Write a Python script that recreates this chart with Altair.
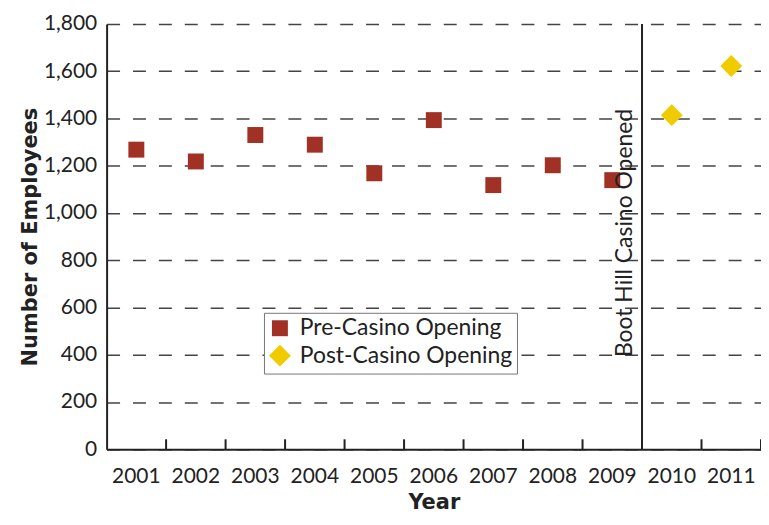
import altair as alt
import pandas as pd

years = ["2001", "2002", "2003", "2004", "2005", "2006", "2007", "2008", "2009", "2010", "2011"]
pre_years = ["2001", "2002", "2003", "2004", "2005", "2006", "2007", "2008", "2009"]
pre_values = [1268, 1218, 1330, 1289, 1168, 1393, 1118, 1202, 1139]
post_years = ["2010", "2011"]
post_values = [1414, 1622]
series_names = ["Pre-Casino Opening", "Post-Casino Opening"]
event_year = "2010"
event_label = "Boot Hill Casino Opened"
event_label_value = 390

FONT = "Lato"
TITLE_FONT = "DejaVu Sans"
W, H = 657, 427

df = pd.DataFrame(
    {"year": pre_years + post_years,
     "employees": pre_values + post_values,
     "series": [series_names[0]] * len(pre_values) + [series_names[1]] * len(post_values)}
)

xscale = alt.Scale(domain=years, paddingInner=0, paddingOuter=0)
yscale = alt.Scale(domain=[0, 1800], nice=False)

points = alt.Chart(df).mark_point(filled=True, opacity=1).encode(
    x=alt.X("year:O", scale=xscale, sort=years,
            axis=alt.Axis(title="Year", labelAngle=0, ticks=False, labelPadding=16,
                          titlePadding=5, grid=False)),
    y=alt.Y("employees:Q", scale=yscale,
            axis=alt.Axis(title="Number of Employees", values=list(range(0, 1801, 200)),
                          format=",d", ticks=False, labelPadding=10, titlePadding=3,
                          grid=True, gridDash=[13, 13], gridDashOffset=0)),
    color=alt.Color("series:N", scale=alt.Scale(domain=series_names, range=["#A03124", "#EFCB00"]),
                    legend=alt.Legend(title=None, orient="none", legendX=158, legendY=290,
                                      strokeColor="#777", fillColor="white", padding=4,
                                      labelFontSize=23, labelFont=FONT, labelColor="#222",
                                      labelLimit=400, symbolSize=300, rowPadding=1,
                                      symbolOpacity=1, labelOffset=8)),
    shape=alt.Shape("series:N", scale=alt.Scale(domain=series_names, range=["square", "diamond"])),
    size=alt.Size("series:N", scale=alt.Scale(domain=series_names, range=[256, 484]), legend=None),
)

ev = pd.DataFrame({"year": [event_year], "label": [event_label], "v": [event_label_value]})

vline = alt.Chart(ev).mark_rule(color="#222", strokeWidth=2).encode(
    x=alt.X("year:O", scale=xscale, sort=years, bandPosition=0),
    y=alt.value(0), y2=alt.value(H),
)

vtext = alt.Chart(ev).mark_text(angle=270, align="left", baseline="bottom", fontSize=23,
                                font=FONT, color="#222", dy=-5).encode(
    x=alt.X("year:O", scale=xscale, sort=years, bandPosition=0),
    y=alt.Y("v:Q", scale=yscale),
    text="label:N",
)

tick_df = pd.DataFrame({"year": years[1:]})
ticks = alt.Chart(tick_df).mark_rule(color="#222", strokeWidth=2).encode(
    x=alt.X("year:O", scale=xscale, sort=years, bandPosition=0),
    y=alt.value(H), y2=alt.value(H - 10),
)
end_tick = alt.Chart(pd.DataFrame({"year": [years[-1]]})).mark_rule(color="#222", strokeWidth=2).encode(
    x=alt.X("year:O", scale=xscale, sort=years, bandPosition=1),
    y=alt.value(H), y2=alt.value(H - 10),
)

chart = alt.layer(points, vline, vtext, ticks, end_tick).properties(
    width=W, height=H,
    autosize=alt.AutoSizeParams(type="none"),
    padding={"left": 99, "top": 15, "right": 0, "bottom": 67},
).configure_view(stroke=None).configure_axis(
    labelFont=FONT, titleFont=TITLE_FONT, labelFontSize=21, titleFontSize=21, titleFontWeight="bold",
    labelColor="#222", titleColor="#222", domainColor="#222", domainWidth=2,
    gridColor="#444", gridWidth=1.5,
)

chart.save("out.html", embed_options={"renderer": "svg", "actions": False})
